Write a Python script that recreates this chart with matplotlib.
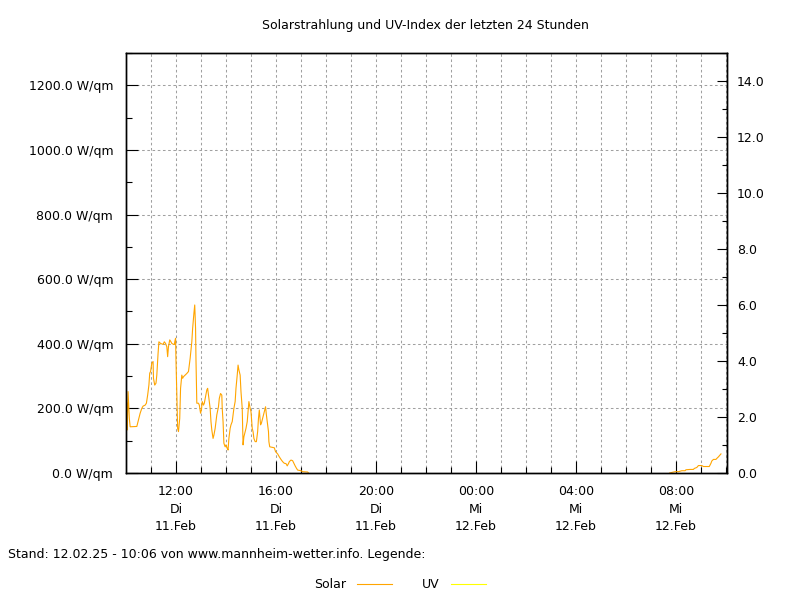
"""Solarstrahlung und UV-Index der letzten 24 Stunden (Nachbau)."""
import matplotlib
matplotlib.use("Agg")
import matplotlib.pyplot as plt
import matplotlib.dates as mdates
from matplotlib.ticker import MultipleLocator, FuncFormatter, FormatStrFormatter
import pandas as pd

TITEL = "Solarstrahlung und UV-Index der letzten 24 Stunden"
FUSSZEILE = "Stand: 12.02.25 - 10:06 von www.mannheim-wetter.info. Legende:"
WOCHENTAG = ["Mo", "Di", "Mi", "Do", "Fr", "Sa", "So"]

# Solarstrahlung in W/qm, 11.02.2025
zeit_11feb = [
    "10:02", "10:03", "10:05", "10:06", "10:08", "10:10", "10:26", "10:30", "10:34", "10:38",
    "10:41", "10:46", "10:49", "10:52", "10:55", "10:57", "10:59", "11:02", "11:05", "11:06",
    "11:09", "11:12", "11:14", "11:17", "11:19", "11:23", "11:29", "11:32", "11:35", "11:38",
    "11:40", "11:42", "11:45", "11:48", "11:50", "11:54", "11:56", "11:58", "11:59", "12:00",
    "12:02", "12:04", "12:06", "12:09", "12:11", "12:14", "12:16", "12:18", "12:22", "12:26",
    "12:30", "12:34", "12:38", "12:40", "12:43", "12:45", "12:47", "12:48", "12:50", "12:54",
    "12:56", "12:59", "13:01", "13:03", "13:06", "13:08", "13:11", "13:14", "13:16", "13:19",
    "13:22", "13:24", "13:26", "13:29", "13:31", "13:34", "13:36", "13:38", "13:42", "13:44",
    "13:47", "13:50", "13:51", "13:53", "13:55", "13:58", "14:00", "14:03", "14:05", "14:07",
    "14:10", "14:12", "14:15", "14:17", "14:19", "14:22", "14:24", "14:27", "14:29", "14:31",
    "14:34", "14:36", "14:39", "14:41", "14:43", "14:46", "14:48", "14:51", "14:53", "14:55",
    "14:58", "15:00", "15:03", "15:05", "15:07", "15:10", "15:13", "15:16", "15:18", "15:20",
    "15:23", "15:25", "15:28", "15:30", "15:32", "15:35", "15:37", "15:40", "15:42", "15:43",
    "15:45", "15:56", "15:59", "16:04", "16:08", "16:12", "16:16", "16:20", "16:24", "16:27",
    "16:30", "16:32", "16:36", "16:40", "16:43", "16:46", "16:49", "16:52", "17:00", "17:04",
    "17:16", "17:18",
]
solar_11feb = [
    216, 133, 252, 226, 169, 143, 144, 164, 185, 200,
    207, 210, 216, 241, 272, 309, 314, 340, 345, 293,
    272, 278, 303, 370, 406, 401, 398, 406, 401, 391,
    360, 391, 412, 406, 401, 398, 398, 412, 417, 350,
    241, 138, 128, 169, 262, 303, 293, 298, 303, 308,
    314, 355, 406, 448, 494, 520, 448, 350, 216, 216,
    210, 185, 195, 221, 210, 216, 236, 257, 262, 231,
    200, 159, 133, 107, 117, 138, 159, 180, 205, 231,
    246, 241, 200, 159, 92, 81, 87, 76, 71, 107,
    138, 149, 159, 180, 200, 221, 262, 303, 334, 319,
    303, 252, 200, 87, 112, 128, 138, 159, 190, 221,
    200, 190, 138, 128, 107, 97, 97, 128, 169, 195,
    149, 154, 169, 180, 190, 205, 180, 149, 128, 97,
    81, 78, 66, 59, 50, 42, 35, 30, 29, 22,
    29, 35, 40, 38, 30, 22, 15, 9, 7, 4,
    3, 0,
]

# Solarstrahlung in W/qm, 12.02.2025
zeit_12feb = [
    "07:45", "07:51", "07:58", "08:06", "08:14", "08:22", "08:24", "08:34", "08:42", "08:44",
    "08:50", "08:54", "09:02", "09:06", "09:20", "09:24", "09:26", "09:30", "09:36", "09:38",
    "09:42", "09:46", "09:48",
]
solar_12feb = [
    0, 2, 4, 4, 7, 7, 10, 11, 11, 14,
    17, 23, 23, 20, 20, 30, 37, 42, 42, 45,
    50, 56, 59,
]

# UV-Index: keine Werte sichtbar
uv_zeit = []
uv_wert = []

X_START, X_ENDE = "2025-02-11 10:01", "2025-02-12 10:03"


def achsen_label(x, pos=None):
    d = mdates.num2date(x)
    return f"{d:%H:%M}\n{WOCHENTAG[d.weekday()]}\n{d:%d}.{d:%b}"


def main():
    plt.rcParams["font.family"] = ["DejaVu Sans"]
    plt.rcParams["font.size"] = 9

    fig = plt.figure(figsize=(8, 6), dpi=100)
    ax = fig.add_axes([0.158, 0.2117, 0.751, 0.700])
    ax2 = ax.twinx()

    # nachts liegt die Kurve auf der Achse, daher die Tage getrennt zeichnen
    l_solar, = ax.plot(pd.to_datetime(["2025-02-11 " + t for t in zeit_11feb]), solar_11feb,
                       color="#ffa500", lw=0.8, label="Solar")
    ax.plot(pd.to_datetime(["2025-02-12 " + t for t in zeit_12feb]), solar_12feb,
            color="#ffa500", lw=0.8)
    l_uv, = ax2.plot(pd.to_datetime(uv_zeit), uv_wert, color="#ffff00", lw=0.8, label="UV")

    ax.set_xlim(pd.Timestamp(X_START), pd.Timestamp(X_ENDE))
    ax.set_ylim(0, 1300)
    ax2.set_ylim(0, 15)

    ax.xaxis.set_major_locator(mdates.HourLocator(byhour=range(0, 24, 4)))
    ax.xaxis.set_minor_locator(mdates.HourLocator())
    ax.xaxis.set_major_formatter(FuncFormatter(achsen_label))
    ax.yaxis.set_major_locator(MultipleLocator(200))
    ax.yaxis.set_minor_locator(MultipleLocator(100))
    ax.yaxis.set_major_formatter(FormatStrFormatter("%.1f W/qm"))
    ax2.yaxis.set_major_locator(MultipleLocator(2))
    ax2.yaxis.set_minor_locator(MultipleLocator(1))
    ax2.yaxis.set_major_formatter(FormatStrFormatter("%.1f"))

    ax.tick_params(axis="both", which="major", direction="in", length=8.6, width=0.8,
                   colors="black")
    ax.tick_params(axis="both", which="minor", direction="in", length=4.3, width=0.8)
    ax.tick_params(axis="y", which="major", pad=9.5)
    ax.tick_params(axis="x", which="major", pad=9)
    ax2.tick_params(axis="y", which="major", direction="in", length=7, width=0.8, pad=7)
    ax2.tick_params(axis="y", which="minor", direction="in", length=3.5, width=0.8)
    for lbl in ax.get_xticklabels():
        lbl.set_linespacing(1.45)
        lbl.set_multialignment("center")

    grid = dict(color="#a0a0a0", lw=0.75, linestyle=(0, (2.5, 2.5)))
    ax.grid(True, which="both", axis="x", **grid)
    ax.grid(True, which="major", axis="y", **grid)
    ax.set_axisbelow(True)
    for a in (ax, ax2):
        for s in a.spines.values():
            s.set_linewidth(1.0)
            s.set_zorder(3)

    fig.text(0.532, 0.958, TITEL, ha="center", va="center", fontsize=9)
    fig.text(0.01, 0.076, FUSSZEILE, ha="left", va="center", fontsize=9)
    fig.legend([l_solar, l_uv], ["Solar", "UV"], loc="center", bbox_to_anchor=(0.5, 0.026),
               ncol=2, frameon=False, markerfirst=False, handlelength=2.8,
               handletextpad=0.9, columnspacing=2.4, fontsize=9)

    fig.savefig("out.png", dpi=100)
    return 0


if __name__ == "__main__":
    raise SystemExit(main())
